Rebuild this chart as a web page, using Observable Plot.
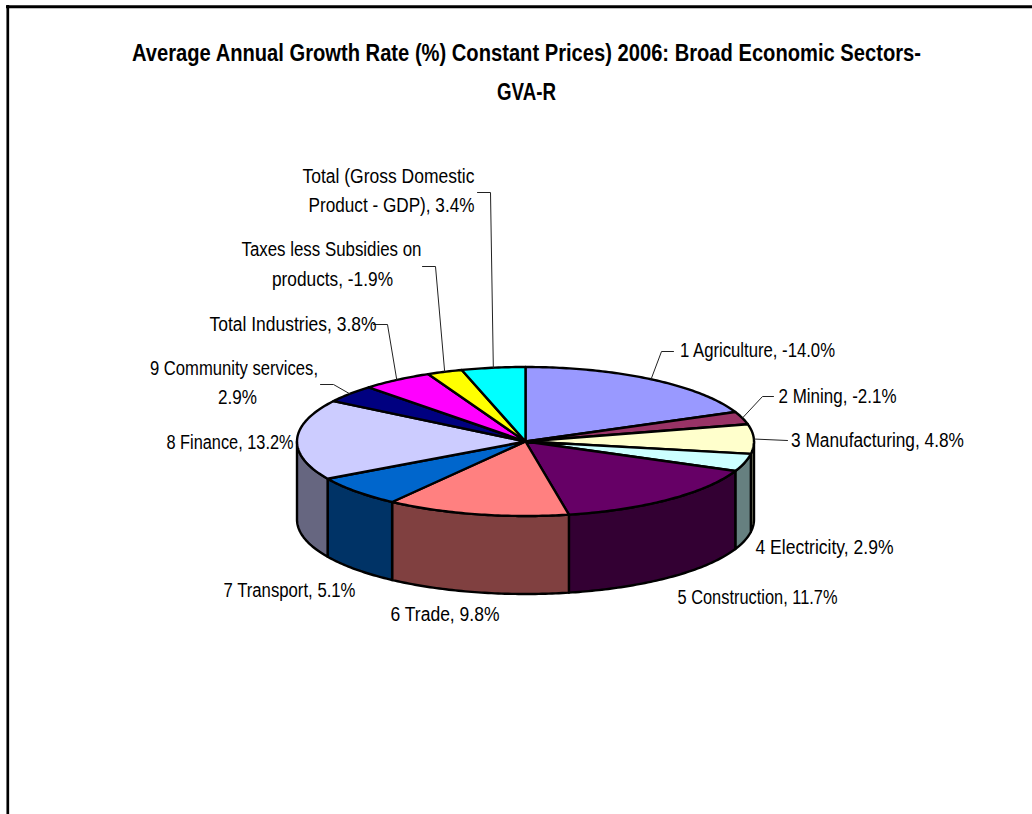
<!DOCTYPE html>
<html>
<head>
<meta charset="utf-8">
<script src="https://cdn.jsdelivr.net/npm/d3@7"></script>
<script src="https://cdn.jsdelivr.net/npm/@observablehq/plot@0.6"></script>
<style>
html,body{margin:0;padding:0;background:#fff;overflow:hidden}
svg{display:block}
</style>
</head>
<body>
<div id="chart"></div>
<script>
const titleLines = ["Average Annual Growth Rate (%) Constant Prices) 2006: Broad Economic Sectors-", "GVA-R"];
const sectors = ["1 Agriculture", "2 Mining", "3 Manufacturing", "4 Electricity", "5 Construction", "6 Trade", "7 Transport", "8 Finance", "9 Community services", "Total Industries", "Taxes less Subsidies on products", "Total (Gross Domestic Product - GDP)"];
const growth = [-14.0, -2.1, 4.8, 2.9, 11.7, 9.8, 5.1, 13.2, 2.9, 3.8, -1.9, 3.4];
const labels = ["1 Agriculture, -14.0%", "2 Mining, -2.1%", "3 Manufacturing, 4.8%", "4 Electricity, 2.9%", "5 Construction, 11.7%", "6 Trade, 9.8%", "7 Transport, 5.1%", "8 Finance, 13.2%", "9 Community services,\n2.9%", "Total Industries, 3.8%", "Taxes less Subsidies on\nproducts, -1.9%", "Total (Gross Domestic\nProduct - GDP), 3.4%"];
const topColors = ["#9999FF", "#993366", "#FFFFCC", "#CCFFFF", "#660066", "#FF8080", "#0066CC", "#CCCCFF", "#000080", "#FF00FF", "#FFFF00", "#00FFFF"];
const wallColors = ["#4C4C80", "#4C1933", "#808066", "#668080", "#330033", "#804040", "#003366", "#666680", "#000040", "#800080", "#808000", "#008080"];

// Layout of the pie and of the labels (page units)
const W = 1032, H = 814;
const cx = 525, cy = 441, rx = 228.5, ry = 74.5, depth = 78;
// one [x centre, y centre, drawn width] per text line, in the order of labels
const labelLines = [
  [757,350,155],[837,396,118],[877,440,173],[824,547,138],[757,597,160],[444.5,614,109],[289,590,132],[229.5,442,127],
  [233.5,368,168],[237,397,39],[292.5,324,167],
  [331,249,180],[332,279,121],
  [388,176,172],[391,205,166]
];
const titleWidths = [789, 59];
const leaderBends = [
  [[661,351],[673,351]], [[762,396],[773,396]], [[787,440]], [], [], [], [], [],
  [[333,384],[320,384]], [[387,324],[373,324]], [[435,266],[422,266]], [[490,192],[477,192]]
];

const sizes = growth.map(Math.abs);
const arcs = d3.pie().sort(null).startAngle(0).endAngle(2 * Math.PI)(sizes);
const pt = (t, drop = 0) => [cx + rx * Math.sin(t), cy - ry * Math.cos(t) + drop];
const sample = (a, b) => {
  const n = Math.max(2, Math.ceil((b - a) / 0.015));
  return d3.range(n + 1).map(i => a + (b - a) * i / n);
};

const wallRows = [], topRows = [], leaderRows = [];
arcs.forEach((arc, i) => {
  const a = Math.max(arc.startAngle, Math.PI / 2), b = Math.min(arc.endAngle, 3 * Math.PI / 2);
  if (b > a) {
    const ts = sample(a, b);
    const ring = [...ts.map(t => pt(t)), ...ts.slice().reverse().map(t => pt(t, depth))];
    ring.push(ring[0]);
    ring.forEach(([x, y]) => wallRows.push({x, y, key: sectors[i], color: wallColors[i]}));
  }
  const ring = [[cx, cy], ...sample(arc.startAngle, arc.endAngle).map(t => pt(t)), [cx, cy]];
  ring.forEach(([x, y]) => topRows.push({x, y, key: sectors[i], color: topColors[i]}));
  if (leaderBends[i].length) {
    const path = [pt((arc.startAngle + arc.endAngle) / 2), ...leaderBends[i]];
    path.forEach(([x, y]) => leaderRows.push({x, y, key: sectors[i]}));
  }
});

const labelRows = labels.flatMap(l => l.split("\n")).map((text, i) => ({
  text, x: labelLines[i][0], y: labelLines[i][1], width: labelLines[i][2]
}));
const titleRows = titleLines.map((text, i) => ({text, x: 526, y: 53 + i * 39, width: titleWidths[i]}));
const font = "'Liberation Sans','Arial',sans-serif";

const chart = Plot.plot({
  width: W, height: H, margin: 0,
  x: {domain: [0, W], range: [0, W], axis: null},
  y: {domain: [0, H], range: [0, H], axis: null},
  color: {type: "identity"},
  style: {background: "#fff"},
  marks: [
    Plot.ruleY([6.3], {x1: 6, x2: W, stroke: "#000", strokeWidth: 3}),
    Plot.ruleX([7.3], {y1: 5, y2: H, stroke: "#000", strokeWidth: 2.7}),
    Plot.line(wallRows, {x: "x", y: "y", z: "key", fill: "color", stroke: "#000", strokeWidth: 2.4, strokeLinejoin: "round"}),
    Plot.line(topRows, {x: "x", y: "y", z: "key", fill: "color", stroke: "#000", strokeWidth: 2.4, strokeLinejoin: "round"}),
    Plot.line(leaderRows, {x: "x", y: "y", z: "key", stroke: "#222", strokeWidth: 1}),
    Plot.text(labelRows, {x: "x", y: "y", text: "text", fill: "#000", fontSize: 19.5, fontFamily: font, textAnchor: "middle", lineAnchor: "middle"}),
    Plot.text(titleRows, {x: "x", y: "y", text: "text", fill: "#000", fontSize: 23, fontWeight: "bold", fontFamily: font, textAnchor: "middle", lineAnchor: "middle"})
  ]
});
document.getElementById("chart").append(chart);

// Condense the glyphs to each line's width, as no narrow font is installed.
const widthOf = new Map([...labelRows, ...titleRows].map(d => [d.text, d.width]));
chart.querySelectorAll("text").forEach(el => {
  const w = widthOf.get(el.textContent);
  if (w) {
    el.setAttribute("textLength", w);
    el.setAttribute("lengthAdjust", "spacingAndGlyphs");
  }
});
</script>
</body>
</html>
